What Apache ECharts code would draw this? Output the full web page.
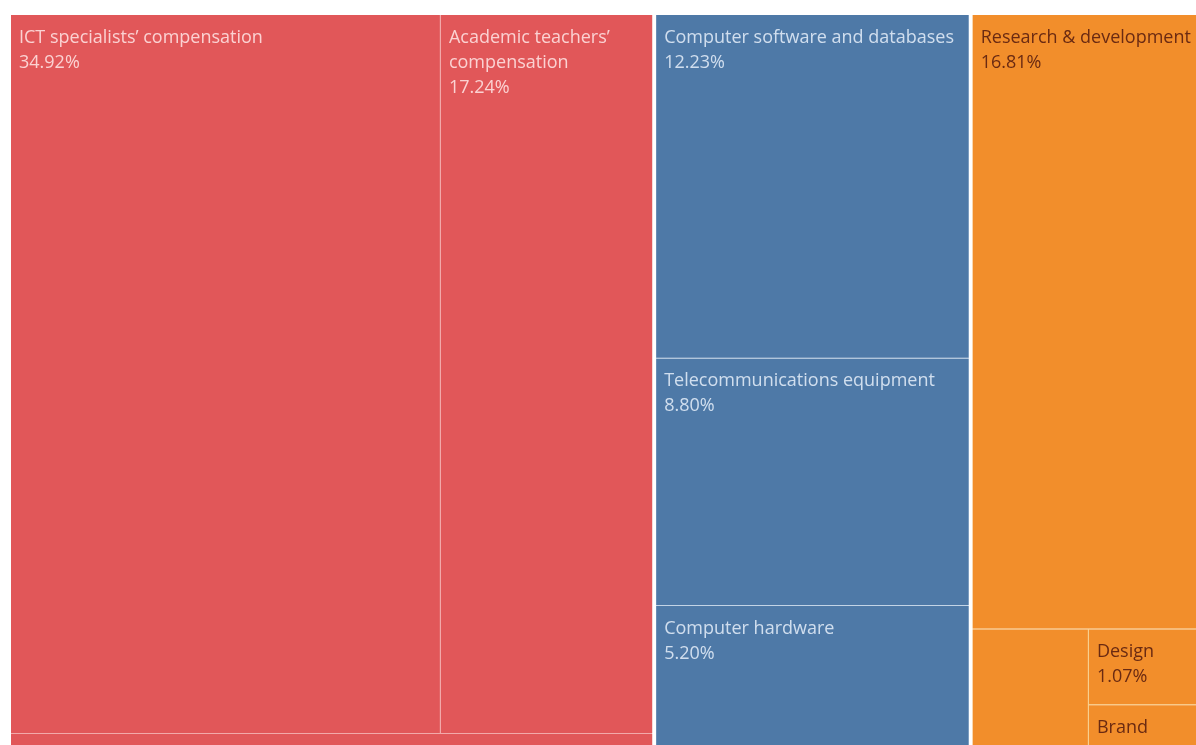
<!DOCTYPE html>
<html>
<head>
<meta charset="utf-8">
<script src="https://cdn.jsdelivr.net/npm/echarts@6/dist/echarts.min.js"></script>
<style>
  html, body { margin: 0; padding: 0; background: #ffffff; }
  #chart { width: 1196px; height: 745px; }
</style>
</head>
<body>
<div id="chart"></div>
<script>
// Spending shares (%) by category, grouped into three families
const groupNames = ['Compensation', 'ICT investment', 'Intangible investment'];

const compensationNames = ['ICT specialists’ compensation', 'Academic teachers’ compensation', 'Other compensation'];
const compensationValues = [34.92, 17.24, 1.30];

const ictNames = ['Computer software and databases', 'Telecommunications equipment', 'Computer hardware'];
const ictValues = [12.23, 8.80, 5.20];

const intangibleNames = ['Research & development', 'Organisational capital', 'Design', 'Brand'];
const intangibleValues = [16.81, 1.62, 1.07, 0.66];

// cells too small to carry a label
const unlabelled = ['Other compensation', 'Organisational capital'];

// per-family styling: fill, separator line, label colour
const palette = [
  { fill: '#e15759', line: '#f2a9aa', text: 'rgba(255,232,232,0.85)' },
  { fill: '#4e79a7', line: '#c3d4e6', text: 'rgba(232,240,250,0.85)' },
  { fill: '#f28e2b', line: '#f9d38e', text: '#6a2a12' }
];

const families = [
  [compensationNames, compensationValues],
  [ictNames, ictValues],
  [intangibleNames, intangibleValues]
];

const treeData = families.map(([names, values], gi) => ({
  name: groupNames[gi],
  itemStyle: { color: palette[gi].fill, borderColor: palette[gi].line },
  children: names.map((n, i) => ({
    name: n,
    value: values[i],
    itemStyle: { color: palette[gi].fill },
    label: { show: unlabelled.indexOf(n) < 0, color: palette[gi].text }
  }))
}));

const chart = echarts.init(document.getElementById('chart'), null, { renderer: 'canvas' });
chart.setOption({
  animation: false,
  series: [{
    type: 'treemap',
    // the map runs a little past the right and bottom edges of the view
    left: 11,
    top: 15,
    width: 1201,
    height: 736,
    roam: false,
    nodeClick: false,
    breadcrumb: { show: false },
    squareRatio: 1.603,
    sort: 'desc',
    label: {
      show: true,
      position: 'insideTopLeft',
      distance: 0,
      padding: [10, 8, 8, 8],
      fontFamily: 'Open Sans',
      fontSize: 18,
      lineHeight: 25,
      overflow: 'break',
      formatter: p => p.name + '\n' + p.value.toFixed(2) + '%'
    },
    levels: [
      { itemStyle: { borderWidth: 0, gapWidth: 4, borderColor: '#ffffff' } },
      { itemStyle: { borderWidth: 0, gapWidth: 1 } },
      { itemStyle: { borderWidth: 0, gapWidth: 0 } }
    ],
    data: treeData
  }]
});
</script>
</body>
</html>
